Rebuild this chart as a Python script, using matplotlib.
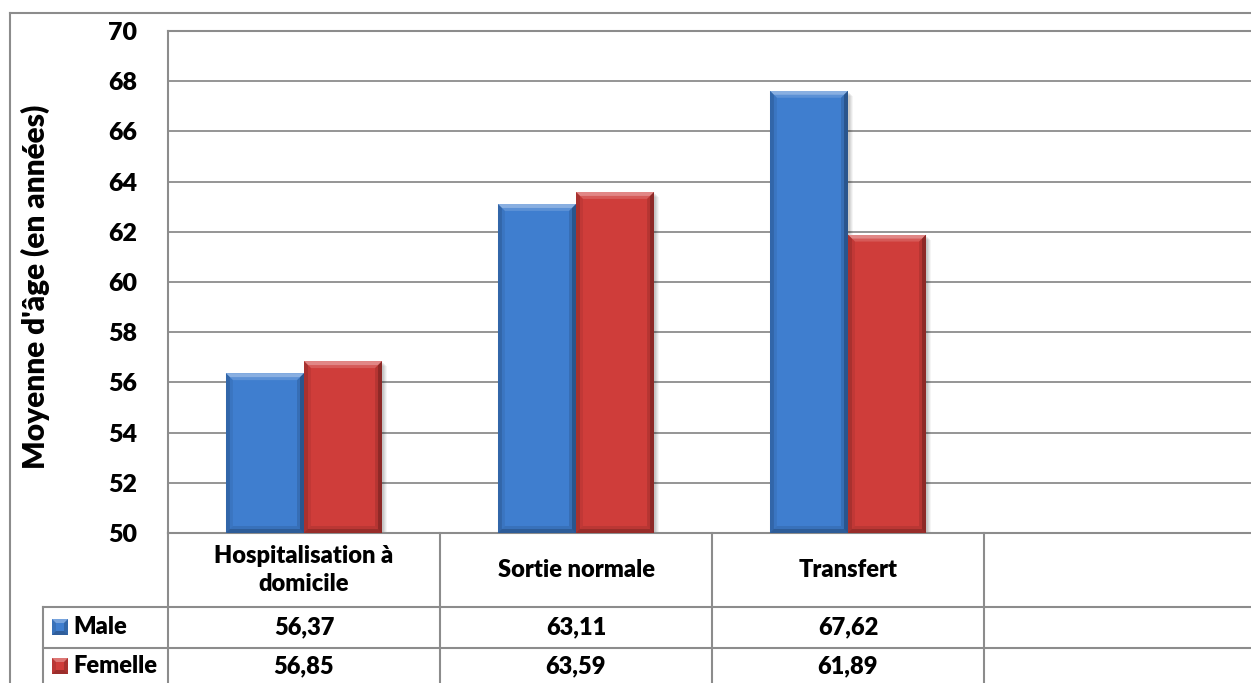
import matplotlib
matplotlib.use("Agg")
import matplotlib.pyplot as plt
import matplotlib.transforms as mtransforms
from matplotlib.patches import Polygon, Rectangle

# ---- data -------------------------------------------------------------
categories = ["Hospitalisation à\ndomicile", "Sortie normale", "Transfert", ""]
series_names = ["Male", "Femelle"]
male = [56.37, 63.11, 67.62]
femelle = [56.85, 63.59, 61.89]
y_ticks = list(range(50, 71, 2))
y_label = "Moyenne d'âge (en années)"

# ---- style ------------------------------------------------------------
FONT = ["Lato", "DejaVu Sans"]
WEIGHT = "heavy"
plt.rcParams["font.family"] = FONT
GRID = "#8c8c8c"
body_colors = {"Male": "#3F7ECF", "Femelle": "#CF3D3A"}

W, H = 1251, 683
fig = plt.figure(figsize=(W / 100, H / 100), dpi=100)

# pixel-space layer for the frame and the data table
frame = fig.add_axes([0, 0, 1, 1], zorder=0)
frame.set_xlim(0, W)
frame.set_ylim(H, 0)
frame.axis("off")

# plot area
left_px, top_px, bottom_px, right_px = 168, 31, 533, 1256
ax = fig.add_axes([left_px / W, (H - bottom_px) / H,
                   (right_px - left_px) / W, (bottom_px - top_px) / H], zorder=1)
ax.set_facecolor("none")
n_cat = len(categories)
ax.set_xlim(-0.5, n_cat - 0.5)
ax.set_ylim(y_ticks[0], y_ticks[-1])
ax.set_yticks(y_ticks)
ax.set_yticklabels([str(t) for t in y_ticks], family=FONT, fontweight=WEIGHT, fontsize=18)
ax.set_xticks([])
ax.grid(axis="y", color=GRID, lw=1.3)
ax.set_axisbelow(True)
ax.spines["right"].set_visible(False)
for side in ("left", "bottom", "top"):
    ax.spines[side].set_color(GRID)
    ax.spines[side].set_linewidth(1.5)
ax.tick_params(axis="y", length=0, pad=22)

# ---- bevelled bars ----------------------------------------------------
bar_w = 0.287
px_per_x = (right_px - left_px) / n_cat
px_per_y = (bottom_px - top_px) / (y_ticks[-1] - y_ticks[0])


def bevel_faces(x0, x1, y0, y1, dx, dy):
    return [
        ([(x0, y1), (x1, y1), (x1 - dx, y1 - dy), (x0 + dx, y1 - dy)], "white", 0.28),
        ([(x0, y0), (x0, y1), (x0 + dx, y1 - dy), (x0 + dx, y0 + dy)], "black", 0.12),
        ([(x1, y0), (x1, y1), (x1 - dx, y1 - dy), (x1 - dx, y0 + dy)], "black", 0.22),
        ([(x0, y0), (x1, y0), (x1 - dx, y0 + dy), (x0 + dx, y0 + dy)], "black", 0.18),
    ]


def bevel_bar(x0, x1, y0, y1, color, target):
    # soft drop shadow
    for k, a in ((5, 0.04), (4, 0.05), (3, 0.06), (2, 0.07)):
        target.add_patch(Rectangle((x0 + k / px_per_x, y0), x1 - x0,
                                   y1 - y0 - k / px_per_y,
                                   facecolor="black", alpha=a, lw=0, zorder=2))
    target.add_patch(Rectangle((x0, y0), x1 - x0, y1 - y0, facecolor=color, lw=0, zorder=3))
    # graded bevel: outer ring softer, inner ring stronger
    for bev, scale in ((7.0, 0.55), (4.0, 1.0)):
        dx, dy = bev / px_per_x, bev / px_per_y
        for pts, c, a in bevel_faces(x0, x1, y0, y1, dx, dy):
            target.add_patch(Polygon(pts, closed=True, facecolor=c, alpha=a * scale,
                                     lw=0, zorder=4))


series = {"Male": male, "Femelle": femelle}
for s_idx, name in enumerate(series_names):
    offset = (s_idx - 0.5) * bar_w
    for i, v in enumerate(series[name]):
        xc = i + offset
        bevel_bar(xc - bar_w / 2, xc + bar_w / 2, y_ticks[0], v, body_colors[name], ax)

# ---- outer frame ------------------------------------------------------
frame.plot([10, 10], [H + 5, 13], color=GRID, lw=1.5, clip_on=False)
frame.plot([10, W + 5], [13, 13], color=GRID, lw=1.5, clip_on=False)

frame.text(35, 287, y_label, rotation=90, ha="center", va="center",
           family=FONT, fontsize=21.5, fontweight=WEIGHT)

# ---- data table -------------------------------------------------------
tr = mtransforms.blended_transform_factory(ax.transData, frame.transData)
row_top, row_male, row_fem, row_end = 533, 607, 648, 690
legend_left = 43

# vertical cell borders
frame.plot([-0.5, -0.5], [row_top, row_end], color=GRID, lw=1.5, transform=tr, clip_on=False)
for i in range(1, n_cat + 1):
    frame.plot([i - 0.5, i - 0.5], [row_top, row_end], color=GRID, lw=1.5,
               transform=tr, clip_on=False)
frame.plot([legend_left, legend_left], [row_male, row_end], color=GRID, lw=1.5, clip_on=False)
# horizontal cell borders
for y in (row_male, row_fem):
    frame.plot([legend_left, W + 5], [y, y], color=GRID, lw=1.5, clip_on=False)

for i, cat in enumerate(categories):
    frame.text(i, (row_top + row_male) / 2, cat, transform=tr, ha="center",
               va="center", family=FONT, fontsize=17, fontweight=WEIGHT, linespacing=1.35)

row_centres = {"Male": 627, "Femelle": 666}
for name in series_names:
    yc = row_centres[name]
    for i, v in enumerate(series[name]):
        frame.text(i, yc, f"{v:.2f}".replace(".", ","), transform=tr,
                   ha="center", va="center", family=FONT, fontsize=17, fontweight=WEIGHT)
    # legend key with the same bevel treatment
    k = 16
    kx, ky = 52, yc - k / 2
    frame.add_patch(Rectangle((kx, ky), k, k, facecolor=body_colors[name], lw=0))
    b = 4
    key_faces = [
        ([(kx, ky), (kx + k, ky), (kx + k - b, ky + b), (kx + b, ky + b)], "white", 0.3),
        ([(kx, ky + k), (kx + k, ky + k), (kx + k - b, ky + k - b), (kx + b, ky + k - b)],
         "black", 0.25),
        ([(kx, ky), (kx, ky + k), (kx + b, ky + k - b), (kx + b, ky + b)], "black", 0.1),
        ([(kx + k, ky), (kx + k, ky + k), (kx + k - b, ky + k - b), (kx + k - b, ky + b)],
         "black", 0.18),
    ]
    for pts, c, a in key_faces:
        frame.add_patch(Polygon(pts, closed=True, facecolor=c, alpha=a, lw=0))
    frame.text(kx + k + 5, yc, name, ha="left", va="center",
               family=FONT, fontsize=17, fontweight=WEIGHT)

fig.savefig("out.png", dpi=100)
